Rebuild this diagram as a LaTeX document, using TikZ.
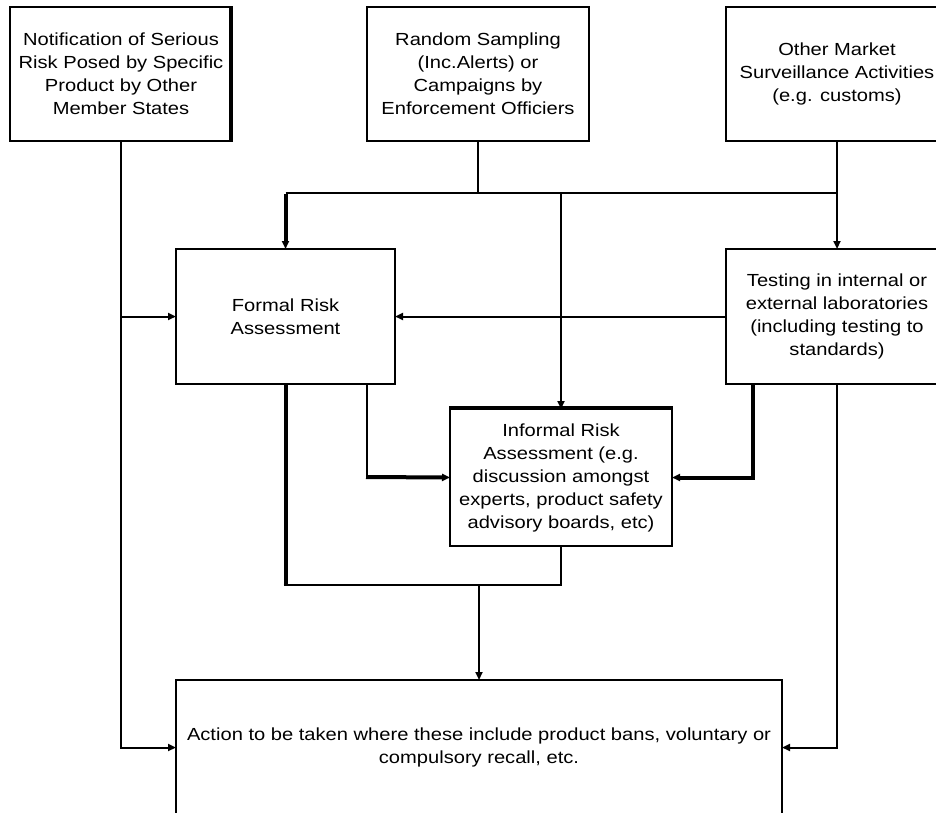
\documentclass[tikz,border=0pt]{standalone}
\usepackage{fontspec}
\setmainfont[FakeStretch=1.15]{Liberation Sans}
\usetikzlibrary{arrows.meta}
\begin{document}
\begin{tikzpicture}[x=1pt,y=-1pt,
  box/.style={draw,line width=2pt,inner sep=0pt,outer sep=0pt,align=center,
    font=\fontsize{17.5}{23}\selectfont},
  ln/.style={line width=2pt},
  tk/.style={line width=4pt},
  arr/.style={-{Triangle[length=8pt,width=7pt]}},
]
\useasboundingbox (0,0) rectangle (936,812);
\clip (0,0) rectangle (936,812);
\node[box,minimum width=222pt,minimum height=134pt] (n1) at (121,74)
  {Notification of Serious\\Risk Posed by Specific\\Product by Other\\Member States};
\draw[line width=4pt] ([xshift=-1pt,yshift=1pt]n1.north east) -- ([xshift=-1pt,yshift=-1pt]n1.south east);
\node[box,minimum width=222pt,minimum height=134pt] (n2) at (478,74)
  {Random Sampling\\(Inc.Alerts) or\\Campaigns by\\Enforcement Officiers};
\node[box,minimum width=222pt,minimum height=134pt] (n3) at (837,74)
  {Other Market\\Surveillance Activities\\(e.g. customs)};
\node[box,minimum width=219pt,minimum height=135pt] (formal) at (285.5,316.5)
  {Formal Risk\\Assessment};
\node[box,minimum width=222pt,minimum height=135pt] (testing) at (837,316.5)
  {Testing in internal or\\external laboratories\\(including testing to\\standards)};
\node[box,minimum width=222pt,minimum height=137pt] (informal) at (561,477.5)
  {Informal Risk\\Assessment (e.g.\\discussion amongst\\experts, product safety\\advisory boards, etc)};
\draw[tk] ([xshift=-1pt,yshift=1pt]informal.north west) -- ([xshift=1pt,yshift=1pt]informal.north east);
\node[box,minimum width=606pt,minimum height=135pt] (action) at (479,747.5)
  {Action to be taken where these include product bans, voluntary or\\compulsory recall, etc.};
% junction coordinates
\coordinate (hl) at (285.5,193);
\coordinate (hr) at (837,193);
\coordinate (hm) at (561,193);
\coordinate (fb1) at (285.5,384);
\coordinate (fb2) at (367,384);
\coordinate (fk) at (367,477);
\coordinate (tb1) at (753,384);
\coordinate (bl) at (285.5,585);
\coordinate (br) at (561,585);
\coordinate (bm) at (479,585);
% left feed
\draw[ln,arr] (n1.south) |- (action.west);
\draw[ln,arr] (n1.south |- formal.west) -- (formal.west);
% top bus
\draw[ln] (n2.south) -- (n2.south |- hl);
\draw[ln] (hl) -- (hr);
\draw[ln,arr] (n3.south) -- (testing.north);
\draw[tk,arr] ([yshift=-1pt]hl) -- (formal.north);
\draw[ln,arr] (hm) -- (informal.north);
% testing to formal
\draw[ln,arr] (testing.west) -- (formal.east);
% to informal
\draw[ln] (fb2) -- (fk);
\draw[tk,arr] ([xshift=-1pt]fk) -- (informal.west);
\draw[tk,arr] (tb1) |- (informal.east);
% to action
\draw[tk] (fb1) -- (bl);
\draw[ln] ([xshift=-2pt]bl) -- (br) -- (informal.south);
\draw[ln,arr] (bm) -- (action.north);
\draw[ln,arr] (testing.south) |- (action.east);
\end{tikzpicture}
\end{document}
